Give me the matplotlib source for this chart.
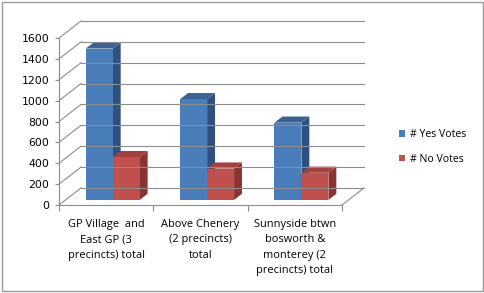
import matplotlib.pyplot as plt
from matplotlib.patches import Polygon, Rectangle
import numpy as np

categories = ['GP Village  and\nEast GP (3\nprecincts) total',
              'Above Chenery\n(2 precincts)\ntotal',
              'Sunnyside btwn\nbosworth &\nmonterey (2\nprecincts) total']
yes_votes = [1450, 965, 740]
no_votes = [410, 300, 260]
series_names = ['# Yes Votes', '# No Votes']
y_ticks = [0, 200, 400, 600, 800, 1000, 1200, 1400, 1600]

plt.rcParams['font.family'] = ['Open Sans', 'DejaVu Sans']

W, H = 485, 293
fig = plt.figure(figsize=(W / 100, H / 100), dpi=100)
ax = fig.add_axes([59 / W, (H - 205) / H, 283 / W, 167 / H])
ax.set_xlim(0, 3)
ax.set_ylim(0, 1600)

# oblique depth offset of the walls (data units)
DX, DY = 0.233, 163
grid_col = '#8c8c8c'

# walls
for v in y_ticks:
    ax.plot([0, DX], [v, v + DY], color=grid_col, lw=0.8, clip_on=False)
    ax.plot([DX, 3 + DX], [v + DY, v + DY], color=grid_col, lw=0.8, clip_on=False)
ax.plot([3, 3 + DX], [0, DY], color=grid_col, lw=0.8, clip_on=False)

# 3D bars
f0, f1 = 0.3, 0.66
bar_w = 0.286
styles = [('#4a7ebb', '#3a6292', '#2f5181'), ('#c0504d', '#a4403d', '#8a3431')]


def bar3d(x0, h, colors, label=None):
    x1 = x0 + bar_w
    front, top, side = colors
    ox0, oy0 = DX * f0, DY * f0
    ox1, oy1 = DX * f1, DY * f1
    ax.add_patch(Polygon([(x1 + ox0, oy0), (x1 + ox1, oy1), (x1 + ox1, h + oy1), (x1 + ox0, h + oy0)],
                         closed=True, fc=side, ec='none', clip_on=False))
    ax.add_patch(Polygon([(x0 + ox0, h + oy0), (x1 + ox0, h + oy0), (x1 + ox1, h + oy1), (x0 + ox1, h + oy1)],
                         closed=True, fc=top, ec='none', clip_on=False))
    p = Polygon([(x0 + ox0, oy0), (x1 + ox0, oy0), (x1 + ox0, h + oy0), (x0 + ox0, h + oy0)],
                closed=True, fc=front, ec='none', clip_on=False, label=label)
    ax.add_patch(p)
    return p


handles = []
for i in range(len(categories)):
    start = i + (1 - 2 * bar_w) / 2
    for j, vals in enumerate([yes_votes, no_votes]):
        p = bar3d(start + j * bar_w, vals[i], styles[j], series_names[j] if i == 0 else None)
        if i == 0:
            handles.append(p)

# axes styling
for s in ['top', 'right']:
    ax.spines[s].set_visible(False)
for s in ['left', 'bottom']:
    ax.spines[s].set_color(grid_col)
    ax.spines[s].set_linewidth(0.8)
ax.set_yticks(y_ticks)
ax.set_yticklabels([str(v) for v in y_ticks], family='DejaVu Sans', fontsize=7.8)
ax.tick_params(axis='y', direction='out', length=3, color=grid_col, pad=4)
ax.set_xticks([0, 1, 2, 3])
ax.set_xticklabels([])
ax.tick_params(axis='x', which='major', direction='out', length=4, color=grid_col)
ax.set_xticks([0.5, 1.5, 2.5], minor=True)
ax.set_xticklabels(categories, minor=True, fontsize=7.9, linespacing=1.55, va='top')
ax.tick_params(axis='x', which='minor', length=0, pad=10)

ax.legend(handles=handles, loc='center left', bbox_to_anchor=(389 / W, 146 / H),
          bbox_transform=fig.transFigure, frameon=False, fontsize=7.6,
          handlelength=0.6, handleheight=0.6, handletextpad=0.5, labelspacing=1.3)

fig.patches.append(Rectangle((0.004, 0.006), 0.992, 0.988, transform=fig.transFigure,
                             fill=False, ec='#9a9a9a', lw=1))

fig.savefig('out.png', dpi=100)
